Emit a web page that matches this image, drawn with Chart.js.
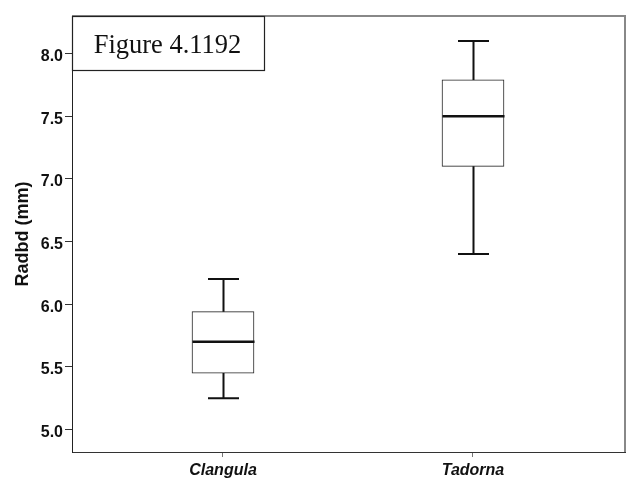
<!DOCTYPE html>
<html>
<head>
<meta charset="utf-8">
<script src="https://cdn.jsdelivr.net/npm/chart.js@4.4.1/dist/chart.umd.min.js"></script>
<style>
  html, body { margin: 0; padding: 0; background: #fff; }
  #wrap { width: 630px; height: 480px; }
</style>
</head>
<body>
<div id="wrap"><canvas id="box-chart" width="630" height="480"></canvas></div>
<script>
// ===== Data =====
const categories = ['Clangula', 'Tadorna'];
const xPositions = [1, 2];
const whiskerLow = [5.25, 6.4];
const quartile1 = [5.45, 7.1];
const medians = [5.7, 7.5];
const quartile3 = [5.94, 7.79];
const whiskerHigh = [6.2, 8.1];
const yTicks = [5.0, 5.5, 6.0, 6.5, 7.0, 7.5, 8.0];

const figureLabel = 'Figure 4.1192';
const yTitle = 'Radbd (mm)';

const BOX_WIDTH = 62;

// ===== Plugins =====
const boxPlotExtras = {
  id: 'boxPlotExtras',
  afterDatasetsDraw(chart) {
    const { ctx, scales: { x, y } } = chart;
    ctx.save();
    ctx.strokeStyle = '#111';
    ctx.lineCap = 'butt';
    xPositions.forEach((pos, i) => {
      const px = Math.round(x.getPixelForValue(pos)) + 0.5;
      const yMin = y.getPixelForValue(whiskerLow[i]);
      const yQ1 = y.getPixelForValue(quartile1[i]);
      const yMed = y.getPixelForValue(medians[i]);
      const yQ3 = y.getPixelForValue(quartile3[i]);
      const yMax = y.getPixelForValue(whiskerHigh[i]);

      ctx.lineWidth = 2;
      ctx.beginPath();
      ctx.moveTo(px, yQ3);
      ctx.lineTo(px, yMax);
      ctx.moveTo(px - BOX_WIDTH / 4, yMax);
      ctx.lineTo(px + BOX_WIDTH / 4, yMax);
      ctx.moveTo(px, yQ1);
      ctx.lineTo(px, yMin);
      ctx.moveTo(px - BOX_WIDTH / 4, yMin);
      ctx.lineTo(px + BOX_WIDTH / 4, yMin);
      ctx.stroke();

      ctx.lineWidth = 2.5;
      ctx.beginPath();
      ctx.moveTo(px - BOX_WIDTH / 2, yMed);
      ctx.lineTo(px + BOX_WIDTH / 2, yMed);
      ctx.stroke();
    });
    ctx.restore();
  },
  afterDraw(chart) {
    const { ctx, chartArea } = chart;
    ctx.save();
    // grey frame on top / right
    ctx.strokeStyle = '#888';
    ctx.lineWidth = 2;
    ctx.beginPath();
    ctx.moveTo(chartArea.left, chartArea.top);
    ctx.lineTo(chartArea.right, chartArea.top);
    ctx.lineTo(chartArea.right, chartArea.bottom);
    ctx.stroke();

    // figure label box
    const bx = chartArea.left + 0.5;
    const by = chartArea.top + 0.5;
    ctx.fillStyle = '#fff';
    ctx.fillRect(bx, by, 192, 54);
    ctx.strokeStyle = '#222';
    ctx.lineWidth = 1.2;
    ctx.strokeRect(bx, by, 192, 54);
    ctx.fillStyle = '#111';
    ctx.font = '26.5px "Liberation Serif", "Times New Roman", serif';
    ctx.textAlign = 'center';
    ctx.textBaseline = 'alphabetic';
    ctx.fillText(figureLabel, bx + 95, by + 36);
    ctx.restore();
  },
};

// ===== Chart =====
const boxData = xPositions.map((pos, i) => ({ x: pos, y: [quartile1[i], quartile3[i]] }));

new Chart(document.getElementById('box-chart'), {
  type: 'bar',
  data: {
    datasets: [{
      data: boxData,
      backgroundColor: '#fff',
      borderColor: '#222',
      borderWidth: 1,
      borderSkipped: false,
      barThickness: BOX_WIDTH,
    }],
  },
  options: {
    responsive: false,
    animation: false,
    layout: { padding: { top: 16, right: 5, left: 0, bottom: 0 } },
    plugins: {
      legend: { display: false },
      tooltip: { enabled: false },
    },
    scales: {
      x: {
        type: 'linear',
        offset: false,
        min: 0.396,
        max: 2.608,
        afterBuildTicks: (scale) => { scale.ticks = xPositions.map((value) => ({ value })); },
        afterFit: (scale) => { scale.height = 28; },
        ticks: {
          callback: (value) => categories[xPositions.indexOf(value)] || '',
          color: '#111',
          padding: 4,
          maxRotation: 0,
          font: { family: '"Liberation Sans", Arial, sans-serif', size: 16, weight: 'bold', style: 'italic' },
        },
        grid: { offset: false, drawOnChartArea: false, drawTicks: true, tickLength: 5, color: '#777' },
        border: { display: true, color: '#333', width: 1 },
      },
      y: {
        min: 4.82,
        max: 8.3,
        afterBuildTicks: (scale) => { scale.ticks = yTicks.map((value) => ({ value })); },
        afterFit: (scale) => { scale.width = 72; },
        ticks: {
          callback: (value) => value.toFixed(1),
          color: '#111',
          padding: 2,
          labelOffset: 3,
          font: { family: '"Liberation Sans", Arial, sans-serif', size: 16, weight: 'bold' },
        },
        grid: { drawOnChartArea: false, drawTicks: true, tickLength: 7, color: '#333' },
        border: { display: true, color: '#222', width: 1 },
        title: {
          display: true,
          text: yTitle,
          color: '#111',
          padding: { top: 12, bottom: 0 },
          font: { family: '"Liberation Sans", Arial, sans-serif', size: 18, weight: 'bold' },
        },
      },
    },
  },
  plugins: [boxPlotExtras],
});
</script>
</body>
</html>
